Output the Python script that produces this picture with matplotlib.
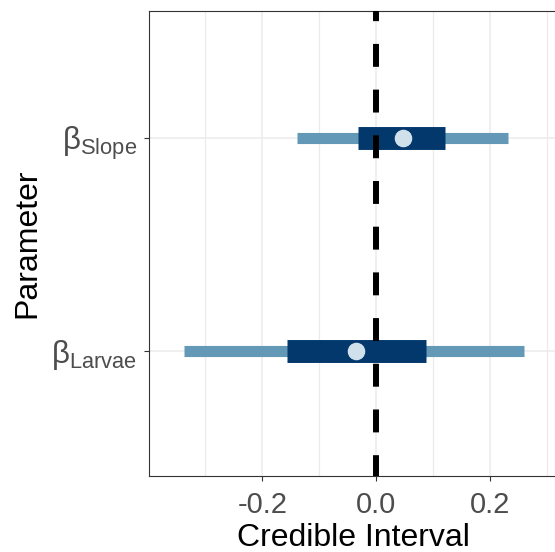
import matplotlib
matplotlib.use("Agg")
import matplotlib.pyplot as plt

plt.rcParams['font.family'] = ['Liberation Sans', 'DejaVu Sans']
plt.rcParams['mathtext.fontset'] = 'custom'
plt.rcParams['mathtext.rm'] = 'Liberation Sans'
plt.rcParams['lines.scale_dashes'] = False

# posterior summaries per parameter
parametros = ["Larvae", "Slope"]
etiquetas = [r"$\mathrm{β_{Larvae}}$", r"$\mathrm{β_{Slope}}$"]
mediana = [-0.036, 0.046]
int_50_bajo = [-0.156, -0.032]
int_50_alto = [0.087, 0.121]
int_95_bajo = [-0.337, -0.140]
int_95_alto = [0.260, 0.231]
pos_y = [1, 2]

fig = plt.figure(figsize=(5.55, 5.52), dpi=100)
ax = fig.add_axes([149/555, 1 - 476/552, (558 - 149)/555, (476 - 11)/552])

# intervalo amplio, intervalo interno y mediana
ax.hlines(pos_y, int_95_bajo, int_95_alto, color="#6399B6", lw=8, capstyle="butt", zorder=2)
ax.hlines(pos_y, int_50_bajo, int_50_alto, color="#03386C", lw=16.5, capstyle="butt", zorder=3)
ax.plot(mediana, pos_y, "o", ms=13.5, mfc="#D1E1EC", mec="#03386C", mew=0.8, zorder=5, ls="none")

# linea de referencia en cero
ax.axvline(0, color="black", lw=4.3, linestyle=(1.5, (16.5, 16.4)), zorder=4)

ax.set_xlim(-0.3988, 0.3188)
ax.set_ylim(0.412, 2.595)
ax.set_xticks([-0.2, 0.0, 0.2])
ax.set_xticklabels(["-0.2", "0.0", "0.2"])
ax.set_xticks([-0.3, -0.1, 0.1, 0.3], minor=True)
ax.set_yticks(pos_y)
ax.set_yticklabels(etiquetas)

ax.grid(True, which="major", color="#EBEBEB", lw=1.1, zorder=0)
ax.grid(True, which="minor", axis="x", color="#EBEBEB", lw=0.9, zorder=0)
ax.set_axisbelow(True)

for s in ax.spines.values():
    s.set_color("#333333")
    s.set_linewidth(0.8)
ax.tick_params(which="major", length=3.5, width=0.8, color="#333333",
               labelcolor="#4D4D4D")
ax.tick_params(axis="x", labelsize=21, pad=7)
ax.tick_params(axis="y", labelsize=22.5, pad=5)
ax.tick_params(which="minor", length=0)

ax.set_xlabel("Credible Interval", fontsize=23, color="black", labelpad=3)
ax.set_ylabel("Parameter", fontsize=23, color="black", labelpad=6)

plt.savefig("out.png", dpi=100)
